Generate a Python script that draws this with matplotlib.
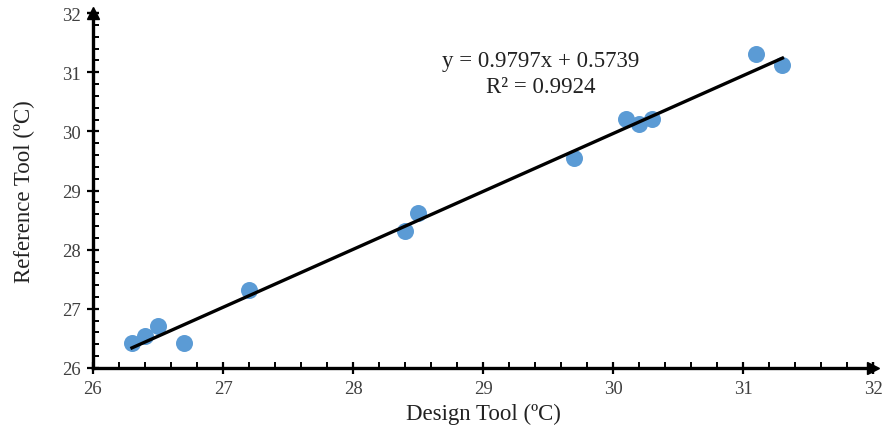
import matplotlib
matplotlib.use("Agg")
import matplotlib.pyplot as plt
from matplotlib.ticker import MultipleLocator
import numpy as np

design = [26.3, 26.4, 26.5, 26.7, 27.2, 28.4, 28.5, 29.7, 30.1, 30.2, 30.3, 31.1, 31.3]
reference = [26.43, 26.54, 26.71, 26.43, 27.32, 28.31, 28.62, 29.55, 30.21, 30.12, 30.21, 31.31, 31.12]
slope = 0.9797
intercept = 0.5739
r2 = 0.9924

plt.rcParams['font.family'] = ['Liberation Serif', 'DejaVu Serif']

fig = plt.figure(figsize=(8.85, 4.39), dpi=100)
ax = fig.add_axes([0.105, 0.1595, 0.882, 0.8085])

ax.scatter(design, reference, s=150, color='#5B9BD5', zorder=3, linewidths=0)
xl = np.array([min(design), max(design)])
ax.plot(xl, slope * xl + intercept, color='black', lw=2.4, zorder=4)

ax.set_xlim(26, 32)
ax.set_ylim(26, 32)
ax.xaxis.set_major_locator(MultipleLocator(1))
ax.yaxis.set_major_locator(MultipleLocator(1))
ax.xaxis.set_minor_locator(MultipleLocator(0.2))
ax.yaxis.set_minor_locator(MultipleLocator(0.2))

for s in ['top', 'right']:
    ax.spines[s].set_visible(False)
for s in ['left', 'bottom']:
    ax.spines[s].set_linewidth(2.4)

ax.tick_params(axis='both', which='major', direction='inout', length=9, width=1.6,
               labelsize=13.5, labelcolor='#404040')
ax.tick_params(axis='x', which='major', pad=4)
ax.tick_params(axis='y', which='major', pad=4)
ax.tick_params(axis='both', which='minor', direction='in', length=4, width=1.4)

# arrowheads
ax.plot(1, 0, marker='>', color='black', markersize=8, transform=ax.transAxes, clip_on=False)
ax.plot(1, 0, marker='|', color='black', markersize=9, mew=1.6, transform=ax.transAxes, clip_on=False)
ax.plot(0, 1, marker='^', color='black', markersize=8, transform=ax.transAxes, clip_on=False)
ax.plot(0, 1, marker='_', color='black', markersize=9, mew=1.6, transform=ax.transAxes, clip_on=False)

ax.set_xlabel('Design Tool (ºC)', fontsize=16.5, color='#222222', labelpad=4)
ax.set_ylabel('Reference Tool (ºC)', fontsize=16.5, color='#222222', labelpad=20)

ax.text(29.44, 31.19, f'y = {slope}x + {intercept}', fontsize=16.5, ha='center', va='center', color='#222222')
ax.text(29.44, 30.75, f'R² = {r2}', fontsize=16.5, ha='center', va='center', color='#222222')

fig.savefig('out.png', dpi=100)
